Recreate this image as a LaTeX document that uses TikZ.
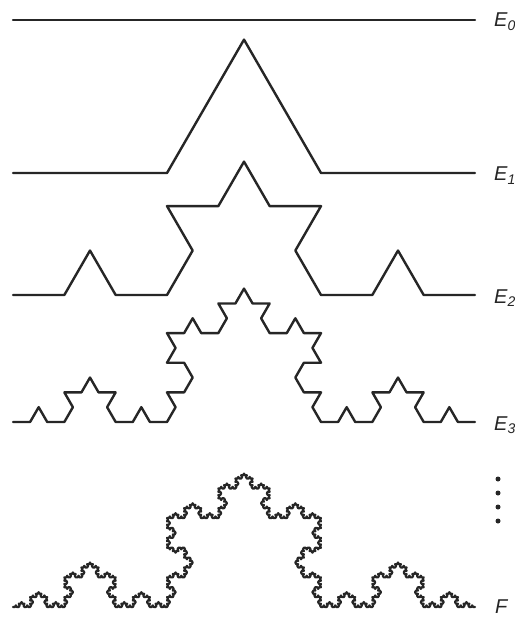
\documentclass[tikz,border=0pt]{standalone}
\usepackage{fontspec}
\setmainfont{Liberation Sans}
% Koch curve built as a global list of points: segment k has direction
% sum over its base-4 digits d of (+60 if d=1, -60 if d=2, 0 otherwise)
\newcommand\kochbuild[4]{% order, x0, y0, length
  \pgfmathsetmacro\kstep{#4/(3^#1)}%
  \xdef\kx{#2}\xdef\ky{#3}%
  \xdef\kpath{(\kx,\ky)}%
  \pgfmathtruncatemacro\kN{4^#1-1}%
  \pgfmathtruncatemacro\kD{#1-1}%
  \foreach \k in {0,...,\kN}{%
    \xdef\kang{0}%
    \foreach \j in {0,...,\kD}{%
      \pgfmathtruncatemacro\dig{mod(floor(\k/(4^\j)),4)}%
      \pgfmathsetmacro\na{\kang+60*(\dig==1)-60*(\dig==2)}%
      \xdef\kang{\na}%
    }%
    \pgfmathsetmacro\nx{\kx+\kstep*cos(\kang)}%
    \pgfmathsetmacro\ny{\ky+\kstep*sin(\kang)}%
    \xdef\kx{\nx}\xdef\ky{\ny}%
    \xdef\kpath{\kpath -- (\kx,\ky)}%
  }%
}
\begin{document}
\begin{tikzpicture}[x=1pt,y=1pt,
  koch/.style={line width=2.4pt,line join=round,line cap=round,black!85},
  lbl/.style={anchor=base west,inner sep=0pt,text=black!85,font=\fontsize{20}{20}\selectfont\itshape},
  dotstyle/.style={fill=black!85}]
\useasboundingbox (0,0) rectangle (514,-617);
\fill[white] (0,0) rectangle (514,-617);
\clip (0,0) rectangle (514,-617);
% E0
\coordinate (s0) at (13,-20);
\coordinate (t0) at (475,-20);
\draw[koch] (s0) -- (t0);
% E1
\kochbuild{1}{13}{-173}{462}
\edef\tmp{\noexpand\draw[koch] \kpath;}\tmp
% E2
\kochbuild{2}{13}{-295}{462}
\edef\tmp{\noexpand\draw[koch] \kpath;}\tmp
% E3
\kochbuild{3}{13}{-422}{462}
\edef\tmp{\noexpand\draw[koch] \kpath;}\tmp
% F
\kochbuild{5}{13}{-607}{462}
\edef\tmp{\noexpand\draw[koch,line width=2.2pt] \kpath;}\tmp
% labels
\node[lbl] (l0) at (494,-27) {E\textsubscript{0}};
\node[lbl] (l1) at (494,-181) {E\textsubscript{1}};
\node[lbl] (l2) at (494,-303) {E\textsubscript{2}};
\node[lbl] (l3) at (494,-430) {E\textsubscript{3}};
\node[lbl] (l4) at (495,-613) {F};
% dots
\foreach \yy [count=\i] in {479,493,507,521}
  \fill[dotstyle] (498,-\yy) circle (2.5) coordinate (d\i);
\end{tikzpicture}
\end{document}
